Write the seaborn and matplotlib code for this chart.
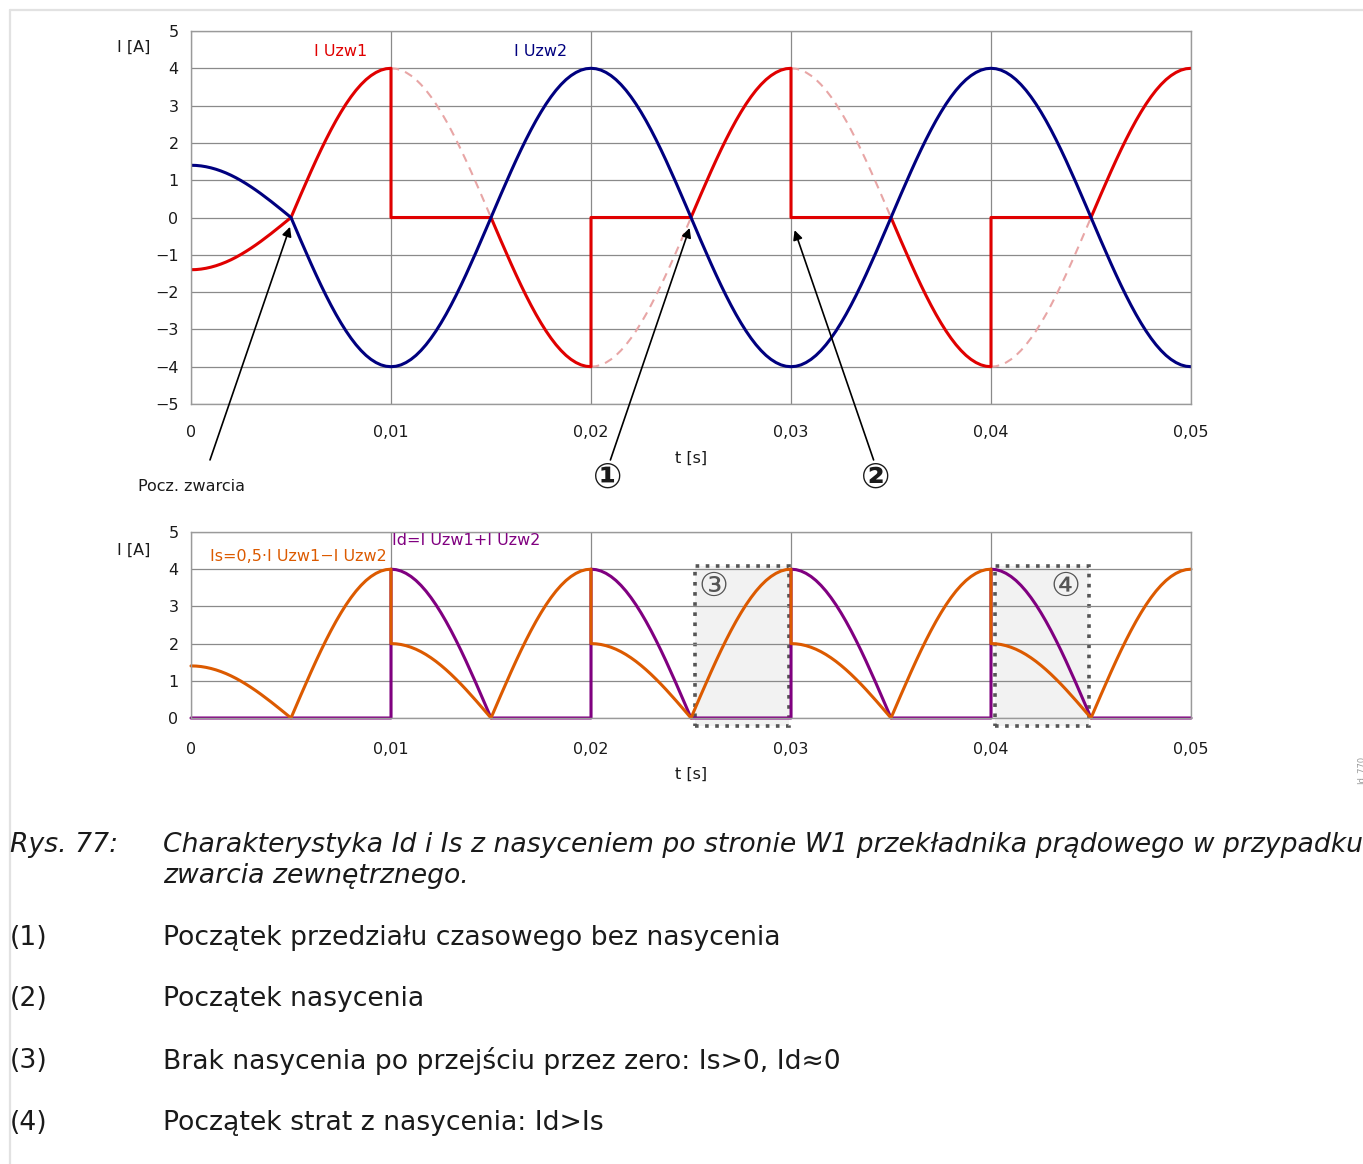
import numpy as np
import pandas as pd
import matplotlib
matplotlib.use("Agg")
import matplotlib.pyplot as plt
import seaborn as sns
from matplotlib.patches import Rectangle
from matplotlib.lines import Line2D

# --- values (A, s) ---
# one quarter of the fault current, zero crossing -> peak, sampled every 0.25 ms
quarter_rise = [0.0, 0.314, 0.626, 0.934, 1.236, 1.531, 1.816, 2.090, 2.351, 2.598, 2.828,
                3.042, 3.236, 3.411, 3.564, 3.696, 3.804, 3.889, 3.951, 3.988, 4.0]
# I Uzw2 before the fault (0 .. 5 ms)
pre_fault = [1.40, 1.396, 1.383, 1.361, 1.331, 1.293, 1.247, 1.194, 1.133, 1.065, 0.990,
             0.909, 0.823, 0.732, 0.636, 0.536, 0.433, 0.327, 0.219, 0.110, 0.0]
# sign of I Uzw2 in each 5 ms quarter after the fault (5 .. 50 ms)
uzw2_sign = [-1, -1, 1, 1, -1, -1, 1, 1, -1]
# quarters in which the W1 CT is saturated (I Uzw1 drops to 0)
w1_saturated = [False, True, False, True, False, True, False, True, False]

x_ticks = [0, 0.01, 0.02, 0.03, 0.04, 0.05]
x_labels = ["0", "0,01", "0,02", "0,03", "0,04", "0,05"]
y_top_ticks = [-5, -4, -3, -2, -1, 0, 1, 2, 3, 4, 5]
y_bot_ticks = [0, 1, 2, 3, 4, 5]

# shaded windows (3) and (4) in the lower chart
box_starts = [0.0252, 0.0402]
box_width = 0.0047
box_labels = ["③", "④"]
box_label_x = [0.0261, 0.0437]

caption = ["Charakterystyka Id i Is z nasyceniem po stronie W1 przekładnika prądowego w przypadku",
           "zwarcia zewnętrznego."]
notes = ["Początek przedziału czasowego bez nasycenia",
         "Początek nasycenia",
         "Brak nasycenia po przejściu przez zero: Is>0, Id≈0",
         "Początek strat z nasycenia: Id>Is"]

RED = "#e00000"
NAVY = "#00007f"
GHOST = "#e8a6a6"
ORANGE = "#dc5a00"
PURPLE = "#800080"
GRID = "#8a8a8a"
INK = "#1a1a1a"
CIRCLED = ["DejaVu Sans", "Noto Sans CJK JP"]

W, H = 1363, 1164

# --- build the waveforms piece by piece (5 ms quarters) ---
q_t = np.linspace(0, 0.005, len(quarter_rise))
rise = np.array(quarter_rise)
t_parts = [q_t]
i2_parts = [np.array(pre_fault)]
i1_parts = [-np.array(pre_fault)]
ghost_rows = []
for k, (s, sat) in enumerate(zip(uzw2_sign, w1_saturated)):
    mag = rise if k % 2 == 0 else rise[::-1]
    tt = 0.005 * (k + 1) + q_t
    t_parts.append(tt)
    i2_parts.append(s * mag)
    i1_parts.append(np.zeros_like(mag) if sat else -s * mag)
    if sat:
        ghost_rows.append(pd.DataFrame({"t": tt, "I": -s * mag, "seg": k}))

df = pd.DataFrame({"t": np.concatenate(t_parts),
                   "I Uzw1": np.concatenate(i1_parts),
                   "I Uzw2": np.concatenate(i2_parts)})
df["Is"] = 0.5 * (df["I Uzw1"] - df["I Uzw2"]).abs()
df["Id"] = (df["I Uzw1"] + df["I Uzw2"]).abs()
ghost = pd.concat(ghost_rows, ignore_index=True)

sns.set_style("white")
plt.rcParams["font.family"] = ["DejaVu Sans", "Noto Sans CJK JP"]

fig = plt.figure(figsize=(W / 100, H / 100), dpi=100)
ax1 = fig.add_axes([191 / W, 1 - 404 / H, 1000 / W, 373 / H])
ax2 = fig.add_axes([191 / W, 1 - 718 / H, 1000 / W, 186 / H])


def style(ax, yticks, xpad):
    ax.set_xlim(0, 0.05)
    ax.set_ylim(yticks[0], yticks[-1])
    ax.set_xticks(x_ticks, x_labels)
    ax.set_yticks(yticks, [str(v).replace("-", "−") for v in yticks])
    ax.grid(True, color=GRID, lw=0.9)
    ax.set_axisbelow(True)
    for sp in ax.spines.values():
        sp.set_color("#9a9a9a")
        sp.set_linewidth(1.0)
    ax.tick_params(length=0, labelsize=11.5, colors=INK)
    ax.tick_params(axis="x", pad=xpad)
    ax.tick_params(axis="y", pad=9)
    ax.set_xlabel("")
    ax.set_ylabel("")


# --- upper chart ---
sns.lineplot(data=ghost, x="t", y="I", units="seg", estimator=None, sort=False,
             color=GHOST, linewidth=1.5, linestyle=(0, (4, 3)), ax=ax1, legend=False)
sns.lineplot(data=df, x="t", y="I Uzw1", estimator=None, sort=False,
             color=RED, linewidth=2.2, ax=ax1, legend=False)
sns.lineplot(data=df, x="t", y="I Uzw2", estimator=None, sort=False,
             color=NAVY, linewidth=2.2, ax=ax1, legend=False)
style(ax1, y_top_ticks, 15)

ax1.text(0.00746, 4.44, "I Uzw1", color=RED, fontsize=11.5, ha="center", va="center")
ax1.text(0.01747, 4.44, "I Uzw2", color=NAVY, fontsize=11.5, ha="center", va="center")
ax1.text(-0.00285, 4.55, "I [A]", fontsize=11.5, ha="center", va="center", color=INK)
ax1.text(0.025, -6.45, "t [s]", fontsize=11.5, ha="center", va="center", color=INK)

arrow = dict(arrowstyle="-|>", color="black", lw=1.2, mutation_scale=14, shrinkA=0, shrinkB=0)
ax1.annotate("", xy=(0.00495, -0.25), xytext=(0.00095, -6.5), arrowprops=arrow,
             annotation_clip=False)
ax1.text(0.0, -7.2, "Pocz. zwarcia", fontsize=11.5, ha="center", va="center", color=INK)
ax1.annotate("", xy=(0.02493, -0.28), xytext=(0.02097, -6.5), arrowprops=arrow,
             annotation_clip=False)
ax1.text(0.02082, -6.98, "①", family=CIRCLED, fontsize=25, fontweight="bold",
         ha="center", va="center", color=INK)
ax1.annotate("", xy=(0.03018, -0.34), xytext=(0.03413, -6.5), arrowprops=arrow,
             annotation_clip=False)
ax1.text(0.03423, -6.98, "②", family=CIRCLED, fontsize=25, fontweight="bold",
         ha="center", va="center", color=INK)

# --- lower chart ---
for x0, lx, lab in zip(box_starts, box_label_x, box_labels):
    ax2.add_patch(Rectangle((x0, -0.22), box_width, 4.31, facecolor="#f2f2f2",
                            edgecolor="#555555", lw=2.6, linestyle=(0, (1, 1.8)),
                            zorder=0.2, clip_on=False))
    ax2.text(lx, 3.55, lab, family=CIRCLED, fontsize=24, color="#555555",
             ha="center", va="center")

sns.lineplot(data=df, x="t", y="Id", estimator=None, sort=False,
             color=PURPLE, linewidth=2.2, ax=ax2, legend=False, clip_on=False)
sns.lineplot(data=df, x="t", y="Is", estimator=None, sort=False,
             color=ORANGE, linewidth=2.2, ax=ax2, legend=False, clip_on=False)
style(ax2, y_bot_ticks, 17)

ax2.text(0.0098, 4.35, "Is=0,5·I Uzw1−I Uzw2", color=ORANGE, fontsize=11.5,
         ha="right", va="center")
ax2.text(0.01006, 4.76, "Id=I Uzw1+I Uzw2", color=PURPLE, fontsize=11.5,
         ha="left", va="center")
ax2.text(-0.00285, 4.5, "I [A]", fontsize=11.5, ha="center", va="center", color=INK)
ax2.text(0.025, -1.5, "t [s]", fontsize=11.5, ha="center", va="center", color=INK)

# --- page frame, side id and caption ---
fig.add_artist(Line2D([10 / W, 10 / W], [0, 1 - 10 / H], transform=fig.transFigure,
                      color="#e2e2e2", lw=1.6))
fig.add_artist(Line2D([10 / W, 1], [1 - 10 / H, 1 - 10 / H], transform=fig.transFigure,
                      color="#e2e2e2", lw=1.6))
fig.text(1356 / W, 1 - 770 / H, "Id_770", rotation=90, fontsize=6, color="#9a9a9a",
         ha="left", va="center")

fig.text(10 / W, 1 - 845 / H, "Rys. 77:", fontsize=19.2, style="italic", va="center",
         color=INK)
for i, line in enumerate(caption):
    fig.text(163 / W, 1 - (845 + 31 * i) / H, line, fontsize=19.2, style="italic",
             va="center", color=INK)
for i, note in enumerate(notes):
    y = 1 - (938 + 61.5 * i) / H
    fig.text(10 / W, y, f"({i + 1})", fontsize=19.2, va="center", color=INK)
    fig.text(163 / W, y, note, fontsize=19.2, va="center", color=INK)

fig.savefig("out.png", dpi=100)
